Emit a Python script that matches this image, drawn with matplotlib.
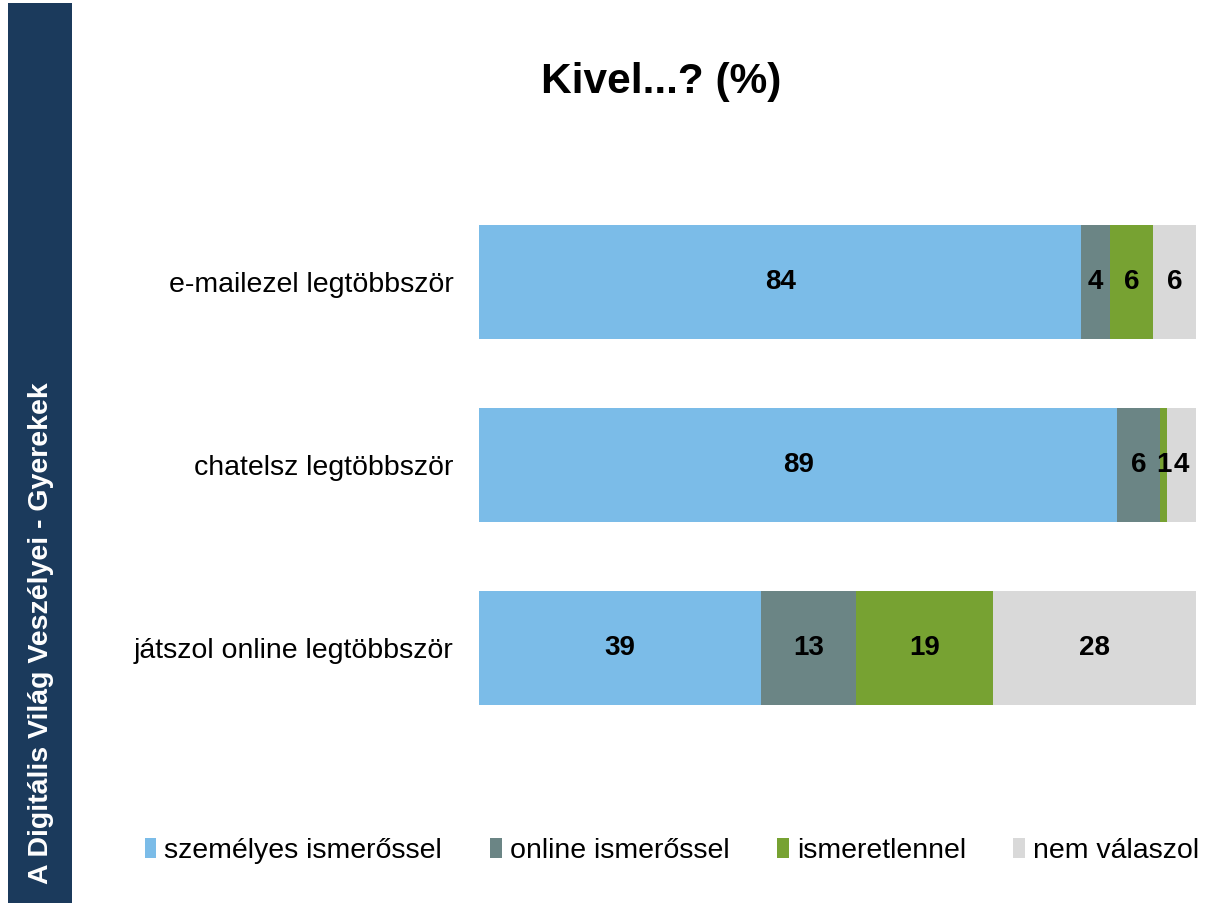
import matplotlib
matplotlib.use("Agg")
import matplotlib.pyplot as plt
from matplotlib.patches import Rectangle, Patch
import numpy as np

plt.rcParams['font.family'] = ['Liberation Sans', 'DejaVu Sans']

categories = ["e-mailezel legtöbbször", "chatelsz legtöbbször", "játszol online legtöbbször"]
series_names = ["személyes ismerőssel", "online ismerőssel", "ismeretlennel", "nem válaszol"]
szemelyes = [84, 89, 39]
online = [4, 6, 13]
ismeretlen = [6, 1, 19]
nem_valaszol = [6, 4, 28]
colors = ["#7bbce8", "#6b8585", "#77a232", "#d9d9d9"]

series = [szemelyes, online, ismeretlen, nem_valaszol]
data = np.array(series, dtype=float)
totals = data.sum(axis=0)
shares = data / totals * 100

fig = plt.figure(figsize=(12.12, 9.07), dpi=100)
fig.patches.append(Rectangle((8/1212, 1 - 903/907), 64/1212, 900/907,
                             transform=fig.transFigure, facecolor="#1b3a5c",
                             edgecolor="none", zorder=0))
fig.text(41/1212, 1 - 633/907, "A Digitális Világ Veszélyei - Gyerekek",
         rotation=90, color="white", fontsize=20.5, fontweight="bold",
         ha="center", va="center")

ax = fig.add_axes([479/1212, 1 - 739.5/907, 717/1212, 549/907])
y = np.arange(len(categories))
left = np.zeros(len(categories))
for i, name in enumerate(series_names):
    bars = ax.barh(y, shares[i], left=left, height=0.623, color=colors[i],
                   label=name, edgecolor="none")
    ax.bar_label(bars, labels=[f"{int(v)}" for v in data[i]], label_type="center",
                 fontsize=20, fontweight="bold", color="black")
    left += shares[i]

ax.set_xlim(0, 100)
ax.set_ylim(2.5, -0.5)
ax.set_yticks(y)
ax.set_yticklabels(categories, fontsize=20.5)
ax.tick_params(axis="y", length=0, pad=18.5)
ax.set_xticks([])
for s in ax.spines.values():
    s.set_visible(False)

fig.text(661/1212, 1 - 82/907, "Kivel...? (%)", fontsize=30.5, fontweight="bold",
         ha="center", va="center")

handles = [Patch(facecolor=c, edgecolor="none") for c in colors]
fig.legend(handles, series_names, loc="center", bbox_to_anchor=(672/1212, 1 - 851/907),
           ncol=4, frameon=False, fontsize=20.5, handlelength=0.42, handleheight=0.7,
           handletextpad=0.28, columnspacing=1.67)

fig.savefig("out.png", dpi=100)
